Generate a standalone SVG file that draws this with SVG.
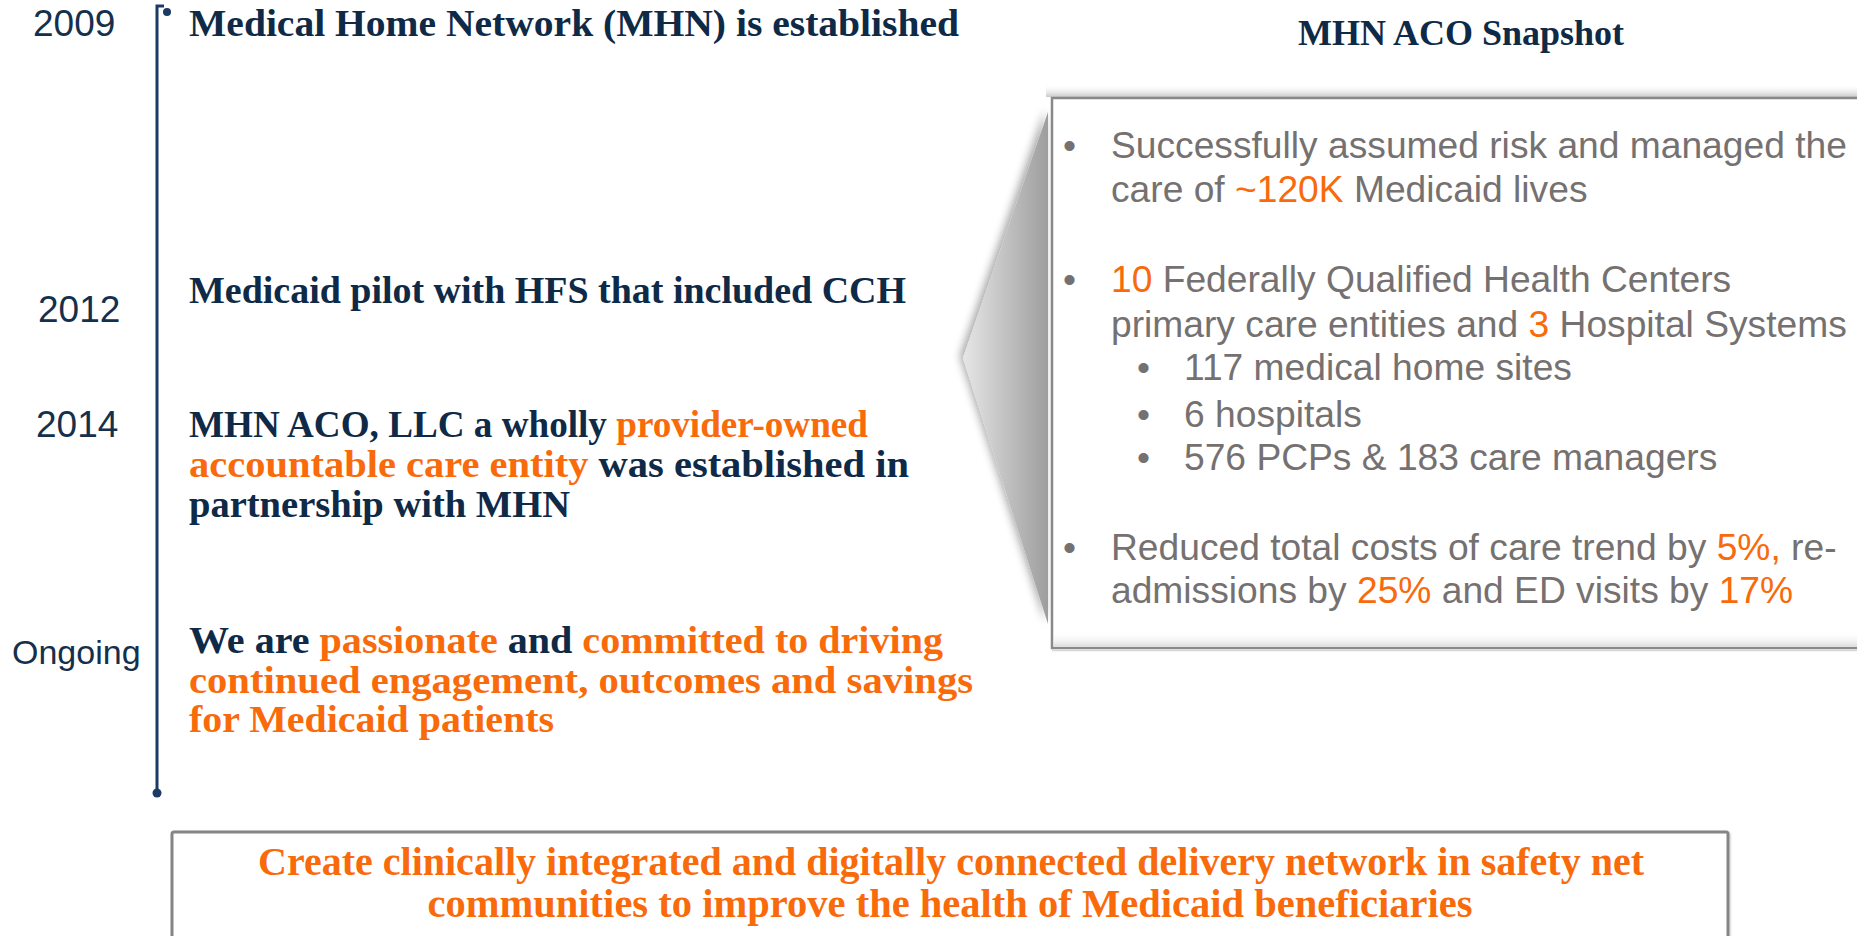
<svg xmlns="http://www.w3.org/2000/svg" width="1857" height="936" viewBox="0 0 1857 936">
  <style>
    .year { font-family: "Liberation Sans", Arial, sans-serif; font-size: 37px; fill: #14304c; }
    .event { font-family: "Liberation Serif", "Times New Roman", serif; font-weight: bold; font-size: 38.5px; fill: #0e2a47; }
    .hl { fill: #f96a0b; }
    .head { font-family: "Liberation Serif", "Times New Roman", serif; font-weight: bold; font-size: 36px; fill: #0e2a47; }
    .snap { font-family: "Liberation Sans", Arial, sans-serif; font-size: 37.2px; fill: #767171; }
    .mission { font-family: "Liberation Serif", "Times New Roman", serif; font-weight: bold; font-size: 39px; fill: #f96a0b; text-anchor: middle; }
    .rail { stroke: #1c3a66; stroke-width: 3; fill: none; }
  </style>
  <defs>
    <linearGradient id="wedgeFill" x1="963" y1="0" x2="1050" y2="0" gradientUnits="userSpaceOnUse">
      <stop offset="0" stop-color="#e6e6e6"/>
      <stop offset="1" stop-color="#9c9c9c"/>
    </linearGradient>
    <linearGradient id="fadeDown" x1="0" y1="0" x2="0" y2="1">
      <stop offset="0" stop-color="#ffffff" stop-opacity="0"/>
      <stop offset="1" stop-color="#c8c8c8"/>
    </linearGradient>
    <linearGradient id="fadeDownLight" x1="0" y1="0" x2="0" y2="1">
      <stop offset="0" stop-color="#ffffff" stop-opacity="0"/>
      <stop offset="1" stop-color="#dedede"/>
    </linearGradient>
    <filter id="wedgeShadow" x="-30%" y="-10%" width="160%" height="120%">
      <feDropShadow dx="-3" dy="-2" stdDeviation="4" flood-color="#000" flood-opacity="0.35"/>
    </filter>
    <filter id="boxShadow" x="-5%" y="-20%" width="110%" height="140%">
      <feDropShadow dx="1" dy="1" stdDeviation="1" flood-color="#000" flood-opacity="0.2"/>
    </filter>
  </defs>

  <!-- timeline rail -->
  <g id="connectors">
    <path class="rail" d="M157,792 V6 H164"/>
    <circle cx="167" cy="12" r="4" fill="#1c3a66"/>
    <circle cx="157" cy="793" r="4.5" fill="#1c3a66"/>
  </g>

  <!-- timeline entries -->
  <g id="event-2009">
    <text class="year" x="33" y="36">2009</text>
    <text class="event" x="189" y="36" textLength="770" lengthAdjust="spacingAndGlyphs">Medical Home Network (MHN) is established</text>
  </g>
  <g id="event-2012">
    <text class="year" x="38" y="322">2012</text>
    <text class="event" x="189" y="303" textLength="717" lengthAdjust="spacingAndGlyphs">Medicaid pilot with HFS that included CCH</text>
  </g>
  <g id="event-2014">
    <text class="year" x="36" y="437">2014</text>
    <text class="event" x="189" y="437" textLength="679" lengthAdjust="spacingAndGlyphs">MHN ACO, LLC a wholly <tspan class="hl">provider-owned</tspan></text>
    <text class="event" x="189" y="477" textLength="720" lengthAdjust="spacingAndGlyphs"><tspan class="hl">accountable care entity</tspan> was established in</text>
    <text class="event" x="189" y="517" textLength="381" lengthAdjust="spacingAndGlyphs">partnership with MHN</text>
  </g>
  <g id="event-ongoing">
    <text class="year" x="12" y="664" style="font-size:34px">Ongoing</text>
    <text class="event" x="189" y="653" textLength="754" lengthAdjust="spacingAndGlyphs">We are <tspan class="hl">passionate</tspan> and <tspan class="hl">committed to driving</tspan></text>
    <text class="event hl" x="189" y="693" textLength="784" lengthAdjust="spacingAndGlyphs">continued engagement, outcomes and savings</text>
    <text class="event hl" x="189" y="732" textLength="365" lengthAdjust="spacingAndGlyphs">for Medicaid patients</text>
  </g>

  <!-- snapshot callout -->
  <g id="snapshot">
    <text class="head" x="1461" y="45" text-anchor="middle">MHN ACO Snapshot</text>
    <polygon points="1048,112 963,358 1048,624" fill="url(#wedgeFill)" filter="url(#wedgeShadow)"/>
    <rect x="1046" y="84" width="830" height="13" fill="url(#fadeDown)"/>
    <rect x="1052" y="98" width="830" height="550" fill="#ffffff" stroke="#898989" stroke-width="2.5"/>
    <rect x="1054" y="632" width="830" height="14" fill="url(#fadeDownLight)"/>
    <line x1="1052" y1="650.5" x2="1857" y2="650.5" stroke="#d6d6d6" stroke-width="1.5"/>

    <text class="snap" x="1063" y="158">•</text>
    <text class="snap" x="1111" y="158">Successfully assumed risk and managed the</text>
    <text class="snap" x="1111" y="202">care of <tspan class="hl">~120K</tspan> Medicaid lives</text>

    <text class="snap" x="1063" y="292">•</text>
    <text class="snap" x="1111" y="292"><tspan class="hl">10</tspan> Federally Qualified Health Centers</text>
    <text class="snap" x="1111" y="337">primary care entities and <tspan class="hl">3</tspan> Hospital Systems</text>
    <text class="snap" x="1137" y="380">•</text>
    <text class="snap" x="1184" y="380">117 medical home sites</text>
    <text class="snap" x="1137" y="427">•</text>
    <text class="snap" x="1184" y="427">6 hospitals</text>
    <text class="snap" x="1137" y="470">•</text>
    <text class="snap" x="1184" y="470">576 PCPs &amp; 183 care managers</text>

    <text class="snap" x="1063" y="560">•</text>
    <text class="snap" x="1111" y="560">Reduced total costs of care trend by <tspan class="hl">5%,</tspan> re-</text>
    <text class="snap" x="1111" y="603">admissions by <tspan class="hl">25%</tspan> and ED visits by <tspan class="hl">17%</tspan></text>
  </g>

  <!-- mission statement -->
  <g id="mission">
    <rect x="172" y="832" width="1556" height="140" rx="2" fill="#ffffff" stroke="#858585" stroke-width="3" filter="url(#boxShadow)"/>
    <text class="mission" x="951" y="875" textLength="1386" lengthAdjust="spacingAndGlyphs">Create clinically integrated and digitally connected delivery network in safety net</text>
    <text class="mission" x="950" y="917" textLength="1045" lengthAdjust="spacingAndGlyphs">communities to improve the health of Medicaid beneficiaries</text>
  </g>
</svg>
